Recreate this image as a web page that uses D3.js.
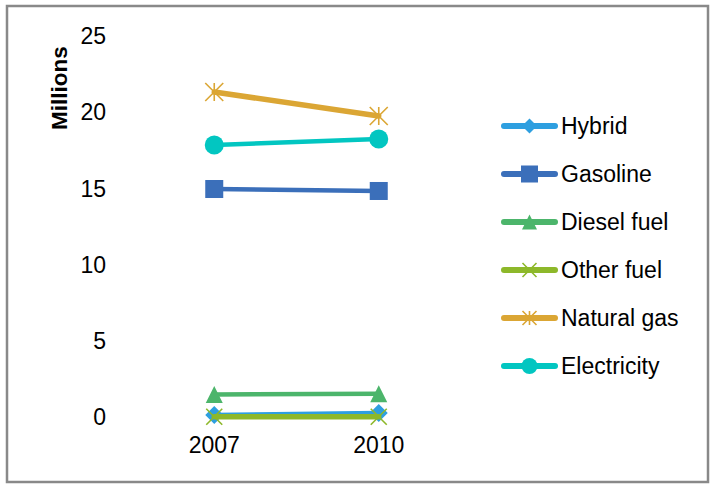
<!DOCTYPE html>
<html><head><meta charset="utf-8">
<script src="https://cdn.jsdelivr.net/npm/d3@7"></script>
<style>body{margin:0;background:#fff}svg{display:block}text{font-family:"Liberation Sans",Arial,sans-serif;fill:#000}</style>
</head><body>
<script>
const years = ["2007", "2010"];
const seriesNames = ["Hybrid", "Gasoline", "Diesel fuel", "Other fuel", "Natural gas", "Electricity"];
const hybrid = [0.13, 0.26];
const gasoline = [14.98, 14.85];
const diesel = [1.48, 1.53];
const otherFuel = [0.02, 0.02];
const naturalGas = [21.35, 19.78];
const electricity = [17.87, 18.27];
const yTicks = [0, 5, 10, 15, 20, 25];
const yLabel = "Millions";

const colors = ["#2E9FE0", "#3B6FBA", "#4CB56B", "#8DB82A", "#DBA634", "#02C6C1"];
const markers = ["diamond", "square", "triangle", "x", "star", "circle"];
const values = [hybrid, gasoline, diesel, otherFuel, naturalGas, electricity];
const series = seriesNames.map((n, i) => ({name: n, values: values[i], color: colors[i], marker: markers[i]}));

const W = 711, H = 486;
const svg = d3.select("body").append("svg").attr("width", W).attr("height", H);
svg.append("rect").attr("x", 7).attr("y", 6).attr("width", 701).attr("height", 476)
  .attr("fill", "#fff").attr("stroke", "#898989").attr("stroke-width", 2.5);

const x = d3.scaleBand().domain(years).range([132, 461]);
const y = d3.scaleLinear().domain([0, 25]).range([417, 36.5]);

const yAxis = svg.append("g").attr("transform", "translate(112,0)")
  .call(d3.axisLeft(y).tickValues(yTicks).tickSize(0).tickPadding(6));
yAxis.select(".domain").remove();
yAxis.selectAll("text").style("font-size", "23px").style("font-family", "Liberation Sans, Arial, sans-serif").attr("fill", "#000");

const xAxis = svg.append("g").attr("transform", "translate(0,433)")
  .call(d3.axisBottom(x).tickSize(0).tickPadding(4));
xAxis.select(".domain").remove();
xAxis.selectAll("text").style("font-size", "23px").style("font-family", "Liberation Sans, Arial, sans-serif").attr("fill", "#000");

svg.append("text").attr("transform", "translate(67,88) rotate(-90)")
  .attr("text-anchor", "middle").style("font-size", "22.5px").style("font-weight", "bold").text(yLabel);

function drawMarker(g, type, cx, cy, color, s) {
  if (type === "diamond") {
    g.append("path").attr("d", `M${cx},${cy - s/2}L${cx + s/2},${cy}L${cx},${cy + s/2}L${cx - s/2},${cy}Z`).attr("fill", color);
  } else if (type === "square") {
    g.append("rect").attr("x", cx - s/2).attr("y", cy - s/2).attr("width", s).attr("height", s).attr("fill", color);
  } else if (type === "triangle") {
    g.append("path").attr("d", `M${cx},${cy - s/2}L${cx + s/2},${cy + s/2}L${cx - s/2},${cy + s/2}Z`).attr("fill", color);
  } else if (type === "circle") {
    g.append("circle").attr("cx", cx).attr("cy", cy).attr("r", s/2).attr("fill", color);
  } else if (type === "x") {
    const h = s/2;
    g.append("path").attr("d", `M${cx-h},${cy-h}L${cx+h},${cy+h}M${cx-h},${cy+h}L${cx+h},${cy-h}`).attr("stroke", color).attr("stroke-width", 1.6).attr("fill", "none");
  } else if (type === "star") {
    const h = s/2;
    g.append("path").attr("d", `M${cx-h},${cy-h}L${cx+h},${cy+h}M${cx-h},${cy+h}L${cx+h},${cy-h}M${cx},${cy-h}L${cx},${cy+h}`).attr("stroke", color).attr("stroke-width", 1.6).attr("fill", "none");
  }
}
const sizes = {diamond: 18, square: 18, triangle: 17, circle: 19, x: 16, star: 18};
const legSizes = {diamond: 15, square: 17, triangle: 15, circle: 16, x: 14, star: 14};

const line = d3.line().x((d, i) => x(years[i]) + x.bandwidth()/2).y(d => y(d));
series.forEach(s => {
  const g = svg.append("g");
  g.append("path").attr("d", line(s.values)).attr("fill", "none").attr("stroke", s.color)
    .attr("stroke-width", s.marker === "star" || s.marker === "x" ? 5.5 : 4.5).attr("stroke-linecap", "round");
  s.values.forEach((v, i) => drawMarker(g, s.marker, x(years[i]) + x.bandwidth()/2, y(v), s.color, sizes[s.marker]));
});

const leg = svg.append("g");
series.forEach((s, i) => {
  const ly = 126 + i * 48;
  const g = leg.append("g");
  g.append("line").attr("x1", 504).attr("x2", 555).attr("y1", ly).attr("y2", ly)
    .attr("stroke", s.color).attr("stroke-width", 6).attr("stroke-linecap", "round");
  drawMarker(g, s.marker, 529.5, ly, s.color, legSizes[s.marker]);
  g.append("text").attr("x", 561).attr("y", ly).attr("dy", "0.35em").style("font-size", "23px").text(s.name);
});
</script>
</body></html>
